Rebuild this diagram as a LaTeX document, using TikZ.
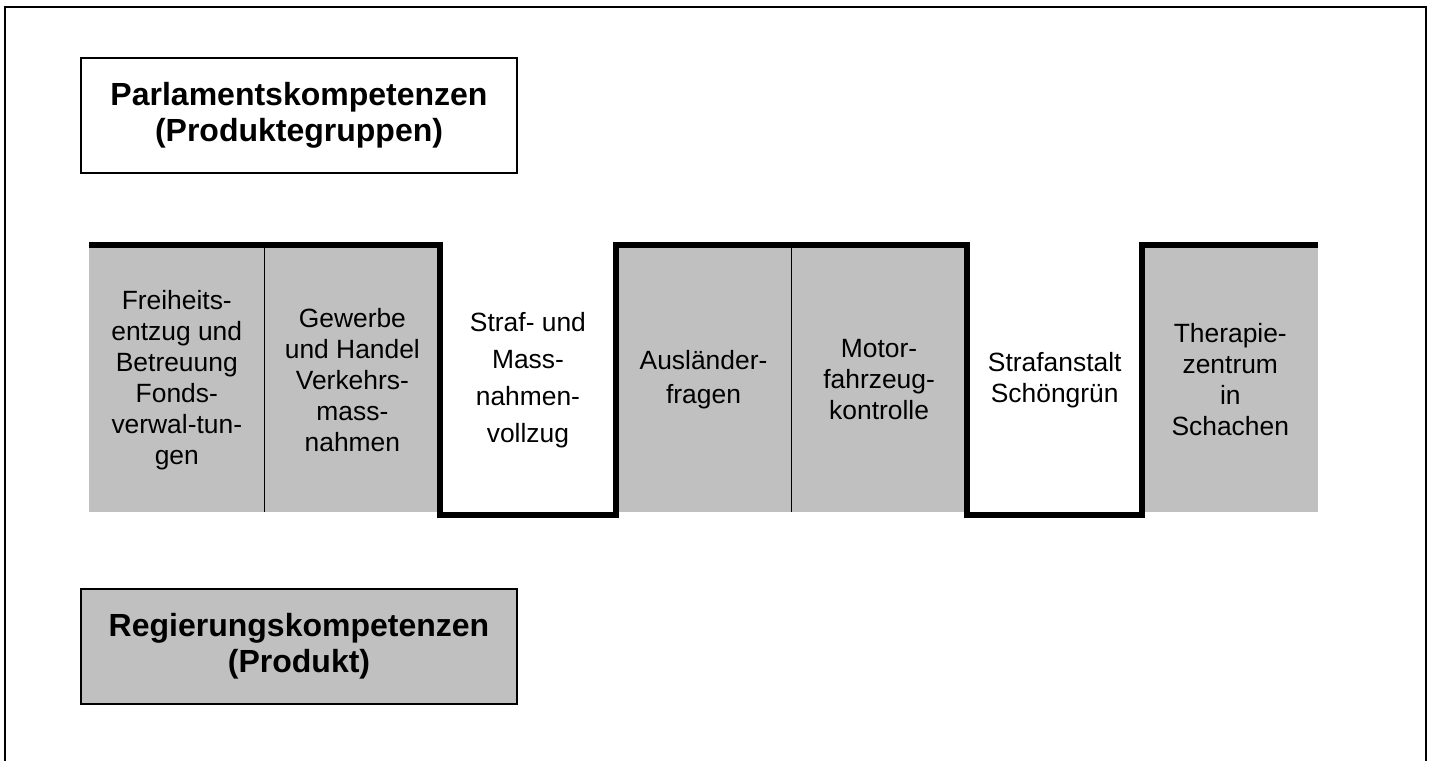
\documentclass[tikz,border=0pt]{standalone}
\usepackage{fontspec}
\setmainfont{Liberation Sans}
\usetikzlibrary{positioning,calc}
\definecolor{boxgray}{RGB}{192,192,192}
\tikzset{
  every node/.style={inner sep=0pt,outer sep=0pt},
  head/.style={align=center,draw,line width=1pt,minimum width=218pt,minimum height=57.5pt,
    font=\fontsize{16}{18}\selectfont\bfseries},
  col/.style={align=center,minimum width=87.79pt,minimum height=132pt,
    font=\fontsize{13.2}{15.5}\selectfont},
  grcol/.style={col,fill=boxgray},
  mythick/.style={line width=3pt,line join=miter},
  divider/.style={line width=0.5pt}
}
\begin{document}
\begin{tikzpicture}[x=0.5pt,y=-0.5pt]
    \useasboundingbox (0,0) rectangle (1433,760);
    \draw[line width=1pt] (5,7) rectangle (1426,790);

    \node at (299, 115.5) [head] (parl) {Parlamentskompetenzen\\(Produktegruppen)};
    \node at (299, 646) [head, fill=boxgray] (regi) {Regierungskompetenzen\\(Produkt)};

    \node at (89, 248) [grcol, anchor=north west] (c1) {Freiheits-\\entzug und\\Betreuung\\Fonds-\\verwal-tun-\\gen};
    \node [grcol, right=0pt of c1] (c2) {Gewerbe\\und Handel\\Verkehrs-\\mass-\\nahmen};
    \node [col, right=0pt of c2, font=\fontsize{13.2}{18.5}\selectfont] (c3) {Straf- und\\Mass-\\nahmen-\\vollzug};
    \node [grcol, right=0pt of c3, font=\fontsize{13.2}{17}\selectfont] (c4) {Ausländer-\\fragen};
    \node [grcol, right=0pt of c4] (c5) {Motor-\\fahrzeug-\\kontrolle};
    \node [col, right=0pt of c5] (c6) {Strafanstalt\\Schöngrün};
    \node [grcol, right=0pt of c6] (c7) {Therapie-\\zentrum\\in\\Schachen};

    \draw[divider] (c1.north east) -- (c1.south east);
    \draw[divider] (c4.north east) -- (c4.south east);

    \draw[mythick] ([yshift=1.5pt]c1.north west) -- ([yshift=1.5pt]c3.north west)
        -- ([yshift=-1.5pt]c3.south west) -- ([yshift=-1.5pt]c3.south east)
        -- ([yshift=1.5pt]c3.north east) -- ([yshift=1.5pt]c6.north west)
        -- ([yshift=-1.5pt]c6.south west) -- ([yshift=-1.5pt]c6.south east)
        -- ([yshift=1.5pt]c6.north east) -- ([yshift=1.5pt]c7.north east);
\end{tikzpicture}
\end{document}
